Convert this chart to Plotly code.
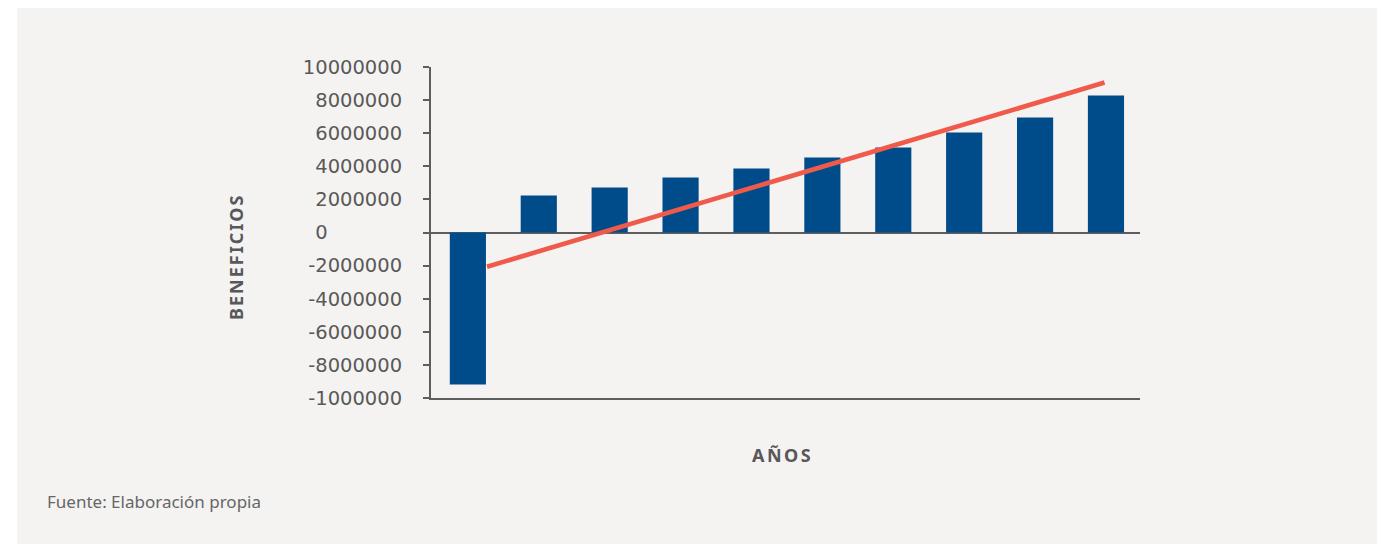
import plotly.graph_objects as go

# ---- data ----
years = list(range(10))
beneficios = [-9180000, 2240000, 2720000, 3320000, 3870000, 4530000, 5140000, 6040000, 6950000, 8280000]
trend_x = [0.27, 8.98]
trend_y = [-2070000, 9060000]
tick_vals = [10000000, 8000000, 6000000, 4000000, 2000000, 0, -2000000, -4000000, -6000000, -8000000, -10000000]
tick_text = ["10000000", "8000000", "6000000", "4000000", "2000000", "0" + "\u00a0" * 12,
             "-2000000", "-4000000", "-6000000", "-8000000", "-1000000"]

OFF = 8  # page body margin
W, H = 1385 - OFF, 544 - OFF
L, R, T, B = 431 - OFF, 1140 - OFF, 67 - OFF, 398 - OFF

def px_x(p):
    return (p - OFF - L) / (R - L)

def px_y(p):
    return (B - (p - OFF)) / (B - T)

fig = go.Figure()
fig.add_trace(go.Bar(x=years, y=beneficios, width=0.51, marker=dict(color="#004c8b", line=dict(width=0)),
                     showlegend=False))
fig.add_trace(go.Scatter(x=trend_x, y=trend_y, mode="lines", line=dict(color="#f05a4b", width=4.7),
                         showlegend=False))

axis_col = "#5e5e5e"
fig.update_layout(
    width=W, height=H,
    margin=dict(l=L, r=W - R, t=T, b=H - B, pad=0),
    paper_bgcolor="white",
    plot_bgcolor="rgba(0,0,0,0)",
    xaxis=dict(range=[-0.52, 9.48], showgrid=False, zeroline=False, showline=True, linecolor=axis_col,
               linewidth=2, ticks="", showticklabels=False, fixedrange=True),
    yaxis=dict(range=[-10000000, 10000000], tickvals=tick_vals, ticktext=tick_text, showgrid=False,
               zeroline=True, zerolinecolor=axis_col, zerolinewidth=2,
               showline=True, linecolor=axis_col, linewidth=2, ticks="outside", ticklen=6,
               tickwidth=2, tickcolor=axis_col, ticklabelstandoff=17,
               tickfont=dict(family="DejaVu Sans", size=19.5, color="#595959")),
    shapes=[dict(type="rect", xref="paper", yref="paper", x0=px_x(17), x1=px_x(1378),
                 y0=px_y(560), y1=px_y(6), fillcolor="#f4f3f1", line=dict(width=0), layer="below")],
    annotations=[
        dict(text='<span style="letter-spacing:2px">BENEFICIOS</span>', xref="paper", yref="paper",
             x=px_x(236), y=px_y(257), showarrow=False,
             textangle=-90, xanchor="center", yanchor="middle",
             font=dict(family="Noto Sans", size=18, color="#58585a", weight="bold")),
        dict(text='<span style="letter-spacing:2.5px">AÑOS</span>', xref="paper", yref="paper",
             x=px_x(782), y=px_y(455), showarrow=False,
             xanchor="center", yanchor="middle",
             font=dict(family="Noto Sans", size=18, color="#58585a", weight="bold")),
        dict(text="Fuente: Elaboración propia", xref="paper", yref="paper", x=px_x(45), y=px_y(501),
             showarrow=False, xanchor="left", yanchor="middle",
             font=dict(family="Noto Sans", size=17, color="#666666")),
    ],
)

fig.write_html("out.html")
